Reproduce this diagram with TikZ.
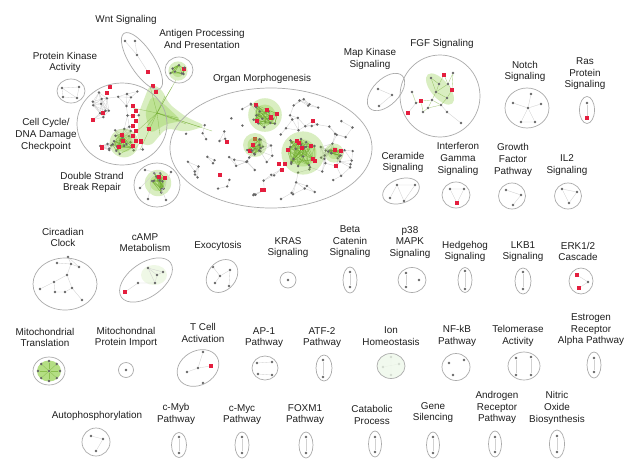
\documentclass[tikz,border=0pt]{standalone}
\usepackage{fontspec}
\setsansfont{Liberation Sans}

\definecolor{netgreen}{RGB}{130,200,50}
\definecolor{hitred}{RGB}{228,30,62}
\newcommand\labfont{\sffamily\fontsize{9.9}{11.6}\selectfont}

% loose cloud of genes inside one group: name, cx, cy, rx, ry, count, seed, link distance
\newcommand\netcloud[8]{%
  \pgfmathsetseed{#7}
  \foreach \i in {1,...,#6}{
    \pgfmathsetmacro\ang{360*rnd}
    \pgfmathsetmacro\rr{0.88*sqrt(rnd)}
    \coordinate (#1\i) at ({#2+\rr*#4*cos(\ang)},{#3+\rr*#5*sin(\ang)});
  }
  \foreach \i in {2,...,#6}{
    \pgfmathtruncatemacro\last{\i-1}
    \foreach \j in {1,...,\last}{
      \pgfpointdiff{\pgfpointanchor{#1\i}{center}}{\pgfpointanchor{#1\j}{center}}
      \pgfgetlastxy\dx\dy
      \pgfmathtruncatemacro\near{veclen(\dx,\dy)<#8}
      \ifnum\near=1 \draw[edge] (#1\i) -- (#1\j);\fi
    }
  }
  \foreach \i in {1,...,#6}{
    \pgfmathtruncatemacro\isred{rnd<0.06}
    \ifnum\isred=1 \node[hit] (#1d\i) at (#1\i) {};\else \node[dot] (#1d\i) at (#1\i) {};\fi
  }
}

% dense green module: name, cx, cy, radius, count, seed
\newcommand\nethub[6]{%
  \pgfmathsetseed{#6}
  \fill[glow] (#2,#3) circle[radius=#4*1.2];
  \fill[glow] (#2,#3) circle[radius=#4*0.75];
  \foreach \i in {1,...,#5}{
    \pgfmathsetmacro\ang{360*rnd}
    \pgfmathsetmacro\rr{#4*sqrt(rnd)}
    \coordinate (#1\i) at ({#2+\rr*cos(\ang)},{#3+\rr*sin(\ang)});
  }
  \foreach \i in {1,...,#5}{
    \foreach \t in {1,...,4}{
      \pgfmathtruncatemacro\j{max(1,min(#5,1+int(rnd*#5)))}
      \draw[gedge] (#1\i) -- (#1\j);
    }
  }
  \foreach \i in {1,...,#5}{
    \pgfmathtruncatemacro\isred{rnd<0.2}
    \ifnum\isred=1 \node[hit] (#1d\i) at (#1\i) {};\else \node[dot] (#1d\i) at (#1\i) {};\fi
  }
}

\tikzset{
  grp/.style={draw=black!33, line width=0.7pt},
  lab/.style={align=center, font=\labfont, text=black!88, inner sep=0pt},
  dot/.style={circle, fill=black!60, inner sep=0pt, minimum size=2.7pt},
  hit/.style={rectangle, fill=hitred, inner sep=0pt, minimum size=4.2pt},
  edge/.style={draw=black!18, line width=0.35pt},
  gedge/.style={draw=netgreen!85!black, line width=0.35pt, opacity=0.6},
  glow/.style={fill=netgreen, opacity=0.3}
}

\begin{document}
\begin{tikzpicture}[x=1pt, y=-1pt]
  \fill[white] (0,0) rectangle (640,461);
  \useasboundingbox (0,0) rectangle (640,461);

  % big connected component
  \fill[glow, rounded corners=6pt] (150,84) -- (161,88) -- (169,104) -- (186,117) -- (206,126)
    -- (186,132) -- (166,128) -- (150,147) -- (137,141) -- (139,112) -- cycle;
  \fill[glow, rounded corners=5pt] (152,95) -- (164,104) -- (182,121) -- (166,124) -- (150,134) -- (145,112) -- cycle;
  \coordinate (core) at (157,113);
  \foreach \x/\y [count=\k] in {150/86, 176/80, 186/124, 200/127, 212/131, 124/143,
      140/150, 165/96, 133/108, 146/128, 178/118, 160/135, 172/87}
    \draw[gedge] (core) -- (\x,\y) coordinate (fan\k);

  \netcloud{cc}{120}{122}{45}{41}{38}{11}{14}
  \nethub{cca}{124}{143}{12}{14}{5}
  \foreach \k in {0,...,8}
    \node[hit] (ccr\k) at ({133+3*mod(\k,2)},{106+5*\k}) {};
  \node[hit] (ccr9) at (110,87) {};
  \node[hit] (ccr10) at (107,93) {};
  \node[hit] (ccr11) at (153,86) {};
  \node[hit] (ccr12) at (156,92) {};

  \netcloud{om}{271}{148}{101}{60}{105}{23}{13}
  \nethub{oma}{265}{115}{14}{16}{7}
  \nethub{omb}{303}{153}{18}{22}{8}
  \nethub{omc}{255}{145}{10}{10}{9}
  \nethub{omd}{334}{153}{8}{6}{10}
  \foreach \x/\y [count=\k] in {313/121, 227/142, 262/190, 279/164, 285/164, 282/170, 220/175}
    \node[hit] (omr\k) at (\x,\y) {};

  \nethub{ds}{158}{183}{11}{12}{4}
  \foreach \x/\y [count=\k] in {145/170, 171/172, 148/199, 166/200, 140/188}
    \node[dot] (dsx\k) at (\x,\y) {};
  \draw[edge] (dsx1) -- (ds1) (dsx2) -- (ds2) (dsx3) -- (ds3) (dsx4) -- (ds4) (dsx5) -- (ds5);

  \nethub{ag}{178}{71}{8}{8}{3}

  % small groups
  \foreach \x/\y/\s [count=\k] in {62/88/dot, 79/87/dot, 63/97/dot, 77/98/dot}
    \node[\s] (pk\k) at (\x,\y) {};
  \draw[edge] (pk1) -- (pk2) -- (pk4) -- (pk3) -- (pk1) -- (pk4);

  \foreach \x/\y/\s [count=\k] in {125/41/dot, 135/41/dot, 137/55/dot, 148/72/hit}
    \node[\s] (wn\k) at (\x,\y) {};
  \draw[edge] (wn1) -- (wn3) -- (wn2) (wn3) -- (wn4);

  \foreach \x/\y/\s [count=\k] in {378/89/dot, 392/95/dot, 379/106/dot}
    \node[\s] (mk\k) at (\x,\y) {};
  \draw[edge] (mk1) -- (mk2) -- (mk3);

  \fill[glow, rotate around={-50:(440,89)}] (440,89) ellipse[x radius=19, y radius=9];
  \foreach \x/\y/\s [count=\k] in {431/78/dot, 444/75/hit, 453/73/dot, 439/84/dot, 448/84/dot,
      452/90/hit, 436/92/dot, 447/98/dot, 432/100/dot, 441/105/dot, 428/108/dot, 421/101/hit,
      412/92/dot, 416/103/dot, 408/113/hit, 423/112/dot, 447/112/dot, 461/123/dot}
    \node[\s] (fg\k) at (\x,\y) {};
  \draw[gedge] (fg1) -- (fg4) -- (fg2) -- (fg5) -- (fg3) (fg4) -- (fg7) -- (fg5) -- (fg6) -- (fg8)
    (fg7) -- (fg8) -- (fg10) -- (fg9) -- (fg7) (fg9) -- (fg11) -- (fg10) (fg1) -- (fg7)
    (fg12) -- (fg9) (fg13) -- (fg14) -- (fg12) -- (fg16) -- (fg11) (fg6) -- (fg3);
  \draw[edge] (fg14) -- (fg15) (fg17) -- (fg18) (fg10) -- (fg17);

  \foreach \x/\y/\s [count=\k] in {531/94/dot, 513/103/dot, 528/108/dot, 541/104/dot, 521/122/dot, 535/122/dot}
    \node[\s] (no\k) at (\x,\y) {};
  \draw[edge] (no3) -- (no1) (no3) -- (no2) (no3) -- (no4) (no3) -- (no5) (no5) -- (no6) (no3) -- (no6);

  \node[dot] (ra1) at (587,103) {};
  \node[hit] (ra2) at (587,118) {};
  \draw[edge] (ra1) -- (ra2);

  \foreach \x/\y/\s [count=\k] in {397/185/dot, 415/185/dot, 390/198/dot, 404/201/dot}
    \node[\s] (ce\k) at (\x,\y) {};
  \draw[edge] (ce1) -- (ce4) -- (ce2) -- (ce1) -- (ce3);

  \foreach \x/\y/\s [count=\k] in {450/189/dot, 464/189/dot, 457/203/hit}
    \node[\s] (ig\k) at (\x,\y) {};
  \draw[edge] (ig1) -- (ig2) -- (ig3) -- (ig1);

  \foreach \x/\y/\s [count=\k] in {506/190/dot, 521/195/dot, 513/205/dot}
    \node[\s] (gf\k) at (\x,\y) {};
  \draw[edge] (gf1) -- (gf2) -- (gf3);

  \foreach \x/\y/\s [count=\k] in {562/189/dot, 577/192/dot, 569/203/dot}
    \node[\s] (il\k) at (\x,\y) {};
  \draw[edge] (il1) -- (il2) -- (il3) -- (il1);

  \foreach \x/\y/\s [count=\k] in {68/257/dot, 57/263/dot, 71/264/dot, 79/267/dot, 67/275/dot, 40/289/dot,
      54/282/dot, 55/292/dot, 65/292/dot, 72/288/dot, 82/300/dot}
    \node[\s] (ci\k) at (\x,\y) {};
  \draw[edge] (ci1) -- (ci3) -- (ci4) -- (ci1) (ci3) -- (ci5) -- (ci7) -- (ci8) (ci5) -- (ci10) -- (ci11)
    (ci10) -- (ci9) -- (ci8) (ci7) -- (ci6) (ci2) -- (ci3);

  \fill[glow, opacity=0.12] (154,275) ellipse[x radius=13, y radius=10];
  \foreach \x/\y/\s [count=\k] in {125/292/hit, 138/283/dot, 148/268/dot, 157/275/dot, 155/283/dot, 163/272/dot}
    \node[\s] (ca\k) at (\x,\y) {};
  \draw[edge] (ca1) -- (ca2) -- (ca5) -- (ca4) -- (ca3) -- (ca5) (ca4) -- (ca6) (ca3) -- (ca6);

  \foreach \x/\y/\s [count=\k] in {213/267/dot, 220/276/dot, 230/270/dot, 215/283/dot, 229/286/dot}
    \node[\s] (ex\k) at (\x,\y) {};
  \draw[edge] (ex1) -- (ex2) -- (ex3) -- (ex5) (ex2) -- (ex4);

  \node[dot] (kr1) at (288,280) {};

  \foreach \x/\y/\s [count=\k] in {406/273/dot, 406/287/dot, 419/280/dot}
    \node[\s] (pm\k) at (\x,\y) {};
  \draw[edge] (pm1) -- (pm2);

  \foreach \x/\y/\s [count=\k] in {577/275/hit, 579/288/hit, 588/282/dot}
    \node[\s] (er\k) at (\x,\y) {};
  \draw[edge] (er1) -- (er3) -- (er2);

  \fill[netgreen, opacity=0.6] (49,371) ellipse[x radius=12, y radius=10.5];
  \foreach \a [count=\k] in {0,45,...,315}
    \node[dot] (mt\k) at ({49+11*cos(\a)},{371+10*sin(\a)}) {};
  \node[dot] (mt9) at (49,371) {};
  \foreach \k in {1,...,8}
    \draw[gedge] (mt9) -- (mt\k);

  \node[dot] (mi1) at (126,370) {};

  \foreach \x/\y/\s [count=\k] in {203/352/dot, 198/368/dot, 211/366/hit, 187/372/dot, 203/383/dot}
    \node[\s] (tc\k) at (\x,\y) {};
  \draw[edge] (tc1) -- (tc2) -- (tc3) (tc2) -- (tc4);

  \foreach \x/\y/\s [count=\k] in {257/363/dot, 272/362/dot, 258/374/dot, 272/375/dot}
    \node[\s] (ap\k) at (\x,\y) {};
  \draw[edge] (ap1) -- (ap2) (ap3) -- (ap4);

  \foreach \x/\y/\s [count=\k] in {391/357/dot, 383/367/dot, 399/364/dot, 391/375/dot}
    \node[\s] (io\k) at (\x,\y) {};
  \draw[edge] (io1) -- (io4) (io2) -- (io3);

  \foreach \x/\y/\s [count=\k] in {449/363/dot, 464/360/dot, 453/375/dot}
    \node[\s] (nf\k) at (\x,\y) {};

  \foreach \x/\y/\s [count=\k] in {516/358/dot, 516/375/dot, 531/357/dot, 531/375/dot}
    \node[\s] (te\k) at (\x,\y) {};
  \draw[edge] (te1) -- (te2) (te3) -- (te4);

  \foreach \x/\y/\s [count=\k] in {91/436/dot, 103/439/dot, 96/451/dot}
    \node[\s] (au\k) at (\x,\y) {};
  \draw[edge] (au1) -- (au2) -- (au3);

  % pairs of genes in the narrow groups
  \foreach \nm/\x/\ya/\yb in {bc/350/272/287, hh/465/271/289, lk/523/272/289, at/323/360/377,
      es/594/358/372, my/179/437/453, mc/242/437/453, fx/306/437/453, cp/375/437/452,
      gs/433/437/453, an/495/437/452, nx/557/436/452} {
    \node[dot] (\nm1) at (\x,\ya) {};
    \node[dot] (\nm2) at (\x,\yb) {};
    \draw[edge] (\nm1) -- (\nm2);
  }

  % group outlines
  \draw[grp] (71,91) ellipse[x radius=14, y radius=12];
  \draw[grp, rotate around={-57:(142,61)}] (142,61) ellipse[x radius=33, y radius=12];
  \draw[grp] (179,70) ellipse[x radius=14, y radius=13];
  \draw[grp] (122,124) ellipse[x radius=45, y radius=41];
  \draw[grp] (157,185) ellipse[x radius=23, y radius=22];
  \draw[grp] (271,148) ellipse[x radius=101, y radius=60];
  \draw[grp, rotate around={45:(386,92)}] (386,92) ellipse[x radius=23, y radius=13];
  \draw[grp] (440,96) ellipse[x radius=40, y radius=41];
  \draw[grp] (527,108) ellipse[x radius=22, y radius=20];
  \draw[grp] (587,110) ellipse[x radius=7.5, y radius=13.5];
  \draw[grp, rotate around={20:(401,191)}] (401,191) ellipse[x radius=19, y radius=12];
  \draw[grp] (456,195) ellipse[x radius=14, y radius=13];
  \draw[grp] (512,196) ellipse[x radius=13.5, y radius=13];
  \draw[grp] (568,196) ellipse[x radius=13.5, y radius=13];

  \draw[grp] (65,284) ellipse[x radius=32, y radius=26];
  \draw[grp, rotate around={35:(146,280)}] (146,280) ellipse[x radius=30, y radius=17];
  \draw[grp, rotate around={50:(222,276)}] (222,276) ellipse[x radius=18, y radius=14];
  \draw[grp] (288,280) circle[radius=8];
  \draw[grp] (350,280) ellipse[x radius=7, y radius=13];
  \draw[grp] (412,280) ellipse[x radius=14, y radius=12.5];
  \draw[grp] (465,280) ellipse[x radius=7, y radius=12.5];
  \draw[grp] (523,281) ellipse[x radius=8, y radius=13];
  \draw[grp] (581,281) ellipse[x radius=12, y radius=13];

  \draw[grp] (49,371) ellipse[x radius=16, y radius=14];
  \draw[grp] (126,370) circle[radius=7.5];
  \draw[grp, rotate around={30:(198,368)}] (198,368) ellipse[x radius=22, y radius=17];
  \draw[grp] (265,368) ellipse[x radius=13, y radius=12];
  \draw[grp] (324,368) ellipse[x radius=8, y radius=13];
  \draw[grp, fill=yellow!15!green!8, fill opacity=0.8] (391,366) ellipse[x radius=14, y radius=12.5];
  \draw[grp] (456,367) ellipse[x radius=14, y radius=13.5];
  \draw[grp] (524,366) ellipse[x radius=16, y radius=14];
  \draw[grp] (594,365) ellipse[x radius=7, y radius=13];

  \draw[grp] (96,442) circle[radius=14];
  \draw[grp] (179,445) ellipse[x radius=7.5, y radius=12.5];
  \draw[grp] (242,445) ellipse[x radius=7, y radius=13];
  \draw[grp] (306,445) ellipse[x radius=7, y radius=13];
  \draw[grp] (375,444) ellipse[x radius=6.5, y radius=13];
  \draw[grp] (433,445) ellipse[x radius=6.5, y radius=13];
  \draw[grp] (495,444) ellipse[x radius=6.5, y radius=13];
  \draw[grp] (557,444) ellipse[x radius=7.5, y radius=14];

  % group names
  \node[lab] (wnt) at (126,20) {Wnt Signaling};
  \node[lab] (antigen) at (202,39) {Antigen Processing\\And Presentation};
  \node[lab] (pkinase) at (65,62.5) {Protein Kinase\\Activity};
  \node[lab] (cellcycle) at (46,135) {Cell Cycle/\\DNA Damage\\Checkpoint};
  \node[lab] (dsbreak) at (92,182.5) {Double Strand\\Break Repair};
  \node[lab] (organ) at (262,79) {Organ Morphogenesis};
  \node[lab] (mapk) at (370,59) {Map Kinase\\Signaling};
  \node[lab] (fgf) at (442,44) {FGF Signaling};
  \node[lab] (notch) at (525,71.5) {Notch\\Signaling};
  \node[lab] (ras) at (585,74) {Ras\\Protein\\Signaling};
  \node[lab] (ceramide) at (403,162.5) {Ceramide\\Signaling};
  \node[lab] (ifng) at (458,159) {Interferon\\Gamma\\Signaling};
  \node[lab] (growth) at (513,160) {Growth\\Factor\\Pathway};
  \node[lab] (iltwo) at (567,165) {IL2\\Signaling};

  \node[lab] (circadian) at (63,237.5) {Circadian\\Clock};
  \node[lab] (camp) at (145,242.5) {cAMP\\Metabolism};
  \node[lab] (exo) at (218,246) {Exocytosis};
  \node[lab] (kras) at (288,247.5) {KRAS\\Signaling};
  \node[lab] (betacat) at (350,242) {Beta\\Catenin\\Signaling};
  \node[lab] (pmapk) at (410,242.5) {p38\\MAPK\\Signaling};
  \node[lab] (hedgehog) at (465,251.5) {Hedgehog\\Signaling};
  \node[lab] (lkb) at (523,251.5) {LKB1\\Signaling};
  \node[lab] (erk) at (578,251.5) {ERK1/2\\Cascade};

  \node[lab] (mitotrans) at (45,337.5) {Mitochondrial\\Translation};
  \node[lab] (mitoimp) at (126,337.5) {Mitochondnal\\Protein Import};
  \node[lab] (tcell) at (203,333) {T Cell\\Activation};
  \node[lab] (apone) at (264,337.5) {AP-1\\Pathway};
  \node[lab] (atf) at (322,337.5) {ATF-2\\Pathway};
  \node[lab] (ion) at (391,336) {Ion\\Homeostasis};
  \node[lab] (nfkb) at (457,336) {NF-kB\\Pathway};
  \node[lab] (telo) at (518,336) {Telomerase\\Activity};
  \node[lab] (estro) at (591,330) {Estrogen\\Receptor\\Alpha Pathway};

  \node[lab] (autophos) at (97,416) {Autophosphorylation};
  \node[lab] (cmyb) at (176,414) {c-Myb\\Pathway};
  \node[lab] (cmyc) at (242,414.5) {c-Myc\\Pathway};
  \node[lab] (foxm) at (305,414.5) {FOXM1\\Pathway};
  \node[lab] (catab) at (372,415) {Catabolic\\Process};
  \node[lab] (genesil) at (433,412.5) {Gene\\Silencing};
  \node[lab] (andro) at (497,407.5) {Androgen\\Receptor\\Pathway};
  \node[lab] (nitric) at (557,408) {Nitric\\Oxide\\Biosynthesis};
\end{tikzpicture}
\end{document}
